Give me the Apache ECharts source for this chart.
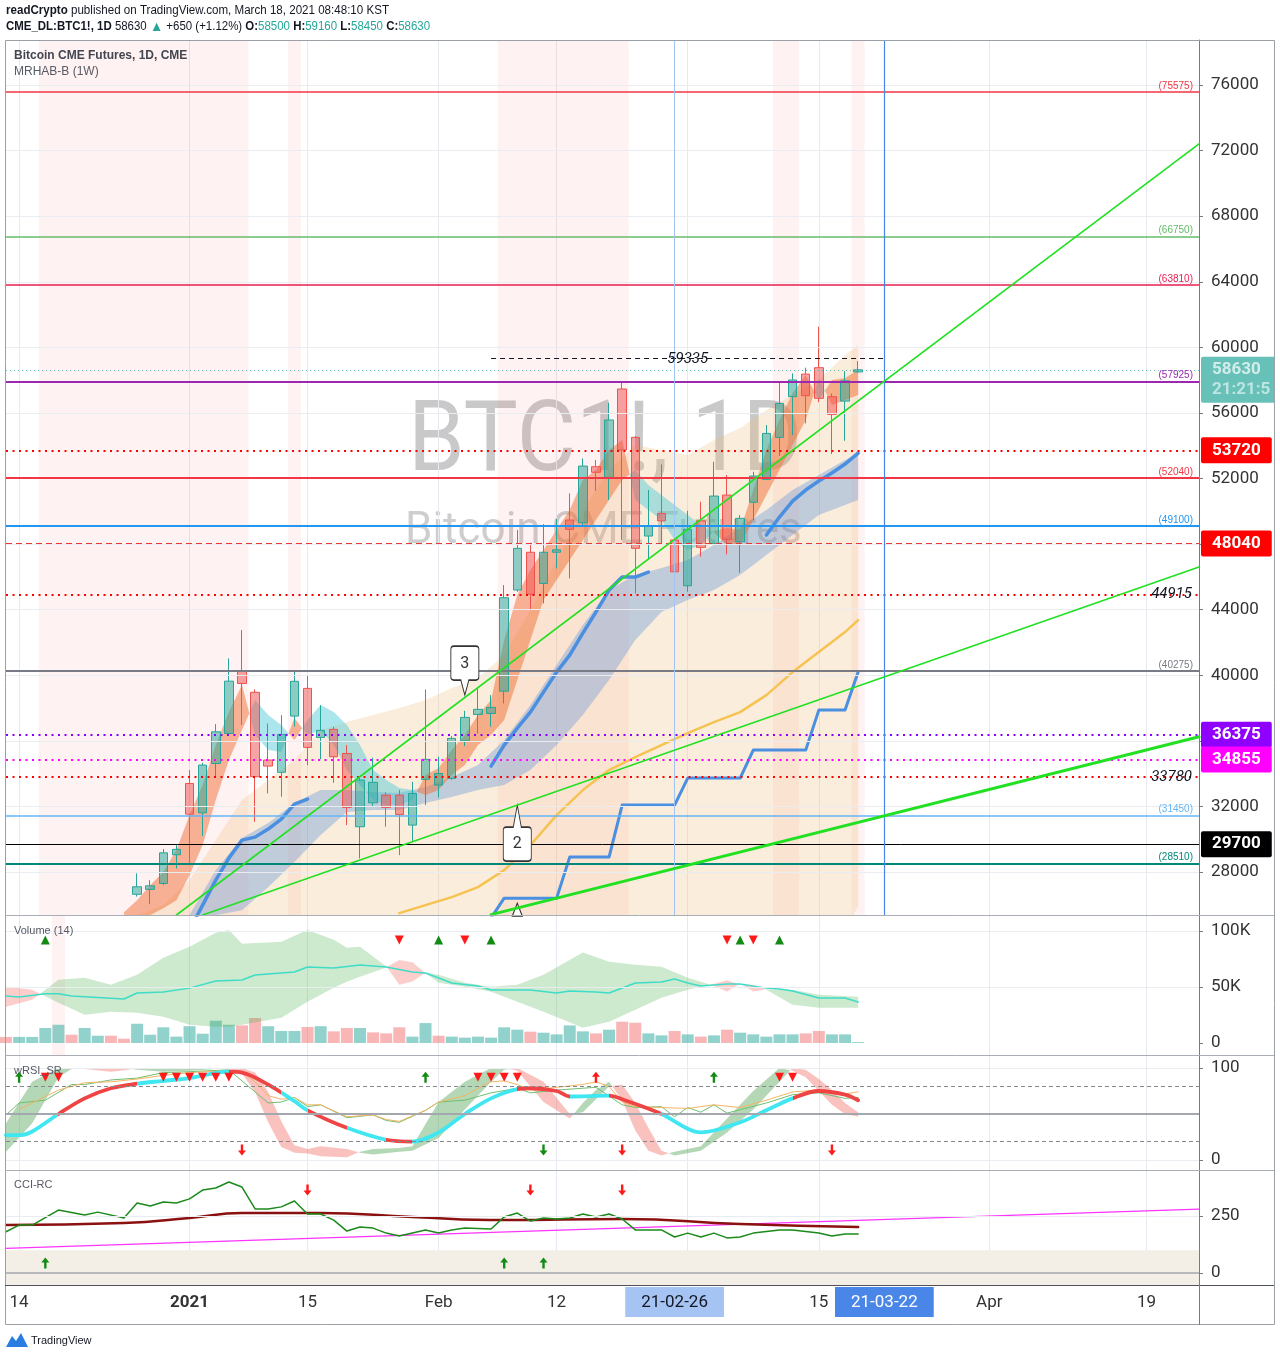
<!DOCTYPE html>
<html>
<head>
<meta charset="utf-8">
<title>Bitcoin CME Futures</title>
<script src="https://cdn.jsdelivr.net/npm/echarts@6.0.0/dist/echarts.min.js"></script>
<style>
html,body{margin:0;padding:0;background:#ffffff;}
#chart{width:1280px;height:1358px;}
</style>
</head>
<body>
<div id="chart"></div>
<script>
// ================= DATA =================
const categories = [
'2020-12-11','2020-12-14','2020-12-15','2020-12-16','2020-12-17','2020-12-18','2020-12-21','2020-12-22','2020-12-23','2020-12-24','2020-12-28','2020-12-29','2020-12-30','2020-12-31',
'2021-01-04','2021-01-05','2021-01-06','2021-01-07','2021-01-08','2021-01-11','2021-01-12','2021-01-13','2021-01-14','2021-01-15','2021-01-19','2021-01-20','2021-01-21','2021-01-22','2021-01-25','2021-01-26','2021-01-27','2021-01-28','2021-01-29',
'2021-02-01','2021-02-02','2021-02-03','2021-02-04','2021-02-05','2021-02-08','2021-02-09','2021-02-10','2021-02-11','2021-02-12','2021-02-16','2021-02-17','2021-02-18','2021-02-19','2021-02-22','2021-02-23','2021-02-24','2021-02-25','2021-02-26',
'2021-03-01','2021-03-02','2021-03-03','2021-03-04','2021-03-05','2021-03-08','2021-03-09','2021-03-10','2021-03-11','2021-03-12','2021-03-15','2021-03-16','2021-03-17','2021-03-18','2021-03-19','2021-03-22','2021-03-23','2021-03-24','2021-03-25','2021-03-26','2021-03-29','2021-03-30','2021-03-31',
'2021-04-01','2021-04-02','2021-04-05','2021-04-06','2021-04-07','2021-04-08','2021-04-09','2021-04-12','2021-04-13','2021-04-14','2021-04-15','2021-04-16','2021-04-19','2021-04-20','2021-04-21','2021-04-22','2021-04-23'
];
const xLabelMap = {'2020-12-14':'14','2021-01-04':'2021','2021-01-15':'15','2021-02-01':'Feb','2021-02-12':'12','2021-02-26':'21-02-26','2021-03-15':'15','2021-03-22':'21-03-22','2021-04-01':'Apr','2021-04-19':'19'};
const gridDates = ['2020-12-14','2021-01-04','2021-01-15','2021-02-01','2021-02-12','2021-03-01','2021-03-15','2021-04-01','2021-04-19'];

const priceTicks = [28000,32000,36000,40000,44000,48000,52000,56000,60000,64000,68000,72000,76000];
const volTicks = [0,50,100];
const wrsiTicks = [0,100];
const cciTicks = [0,250];

// candles [open, high, low, close], first one on 2020-12-28
const candleStart = '2020-12-28';
const candleOHLC = [
[26640,27920,26500,27100],[26940,27500,26040,27160],[27300,29400,27200,29170],[29050,29640,28220,29380],
[33400,34220,28420,31530],[31610,34660,30190,34520],[34620,37020,33770,36550],[36450,41030,36410,39640],[40270,42760,36960,39500],
[38960,39140,31060,33810],[34830,37060,32790,34460],[34080,37570,32590,36390],[37510,40270,36860,39630],[39200,40010,34520,35600],
[36210,38180,34870,36640],[36700,36860,33440,35030],[35230,35740,30860,31940],[30760,33810,28830,33610],
[32220,34970,32020,33470],[32690,32860,30760,31940],[32690,33000,29030,31510],[30860,33500,29900,32790],[33650,39140,32080,34870],
[33300,35030,32550,34010],[33710,36290,33610,36150],[36000,37830,35680,37430],[37610,39200,36450,37920],[37670,38790,36860,38040],
[39030,45500,38280,44730],[45200,48860,45090,47740],[47500,48080,43980,44950],[45600,49220,44380,47500],[47500,49530,46520,47650],
[49470,51090,45910,48900],[49300,53230,49160,52760],[52720,53130,51250,52380],[52070,56620,50690,55570],
[57460,57840,48250,53740],[54510,54600,44990,47740],[48490,51300,47030,49120],[49870,52860,48040,49420],[48250,48860,45930,46310],
[45460,50030,45090,48900],[49420,50580,47230,47800],[48040,53020,47950,50930],[50990,52210,47370,48290],[48140,49770,46250,49570],
[50550,52410,49470,52150],[51950,55260,51900,54750],[54510,57840,53370,56580],[56990,58410,54650,58010],[58370,58760,55360,57050],
[58760,61260,56660,56890],[56990,57190,53490,55910],[56720,58550,54300,57960],[58500,59160,58450,58630]
];

// volume (thousands) from 2020-12-11, and bar direction (u = up colour, d = down colour)
const volume = [5.4,5.4,5.4,13.4,16.3,7.4,13.4,6.5,6.5,3.8, 17.2,7.4,14,5.7,15,8.3,19.9,16.3,15.7,22.3,
 15,10.7,10.7,14.3,15,10.4,13.4,13.4,9.5,8.6, 14,5.7,17.8,6.5,5.7,4.8,5.7,4.8,14,11.9,
 10.1,9.2,7.7,15.7,10.4,8.6,11.9,19,18.1,8.6, 6.8,10.7,7.7,5.7,6.8,11.9,9.2,7.7,5.7,7.7, 7.7,8.6,10.7,7.7,7.7,0.8];
const volumeDir = 'duuuuduudd' + 'uuuuuuuudd' + 'uuududdudd' + 'duuduuuuuu' + 'duuuududdu' + 'udududuuuu' + 'udduuu';
const volCloud = [[0,32.4,50.3],[2,38.7,47.6],[4,56.5,36],[6,58.3,25.3],[8,52.1,28],[10,61,27],[12,76.2,23.5],[14,86,16.3],[16,98.5,14.5],[17,101,14.5],[18,88.7,16.3],[21,90.5,22.6],[23,101,36.9],[25,92.3,49.4],[26,85.1,54.7],[27,86,59.2],[29,68.5,67.5],[30,52,74],[31,55,72],[32,63,62.5],[33,61,53.9],[35,53.9,50.3],[37,50.3,45.8],[39,52.1,36.9],[41,61,28],[44,80.7,13.7],[46,72.6,19],[48,69.9,29.8],[50,68.1,40.5],[52,58.3,47.6],[54,51,53],[55,46,56],[56,53,52],[57,46,52],[58,48,47.5],[60,47.6,34.2],[62,43.1,31.5],[65,41.3,31.5]];
const volLine = [[0,42],[1,41],[3,43.9],[4,43.9],[5,42],[9,39.3],[10,44.6],[12,45.5],[14,49],[16,55.4],[18,56.3],[19,60.7],[22,63.4],[23,67.9],[25,67],[27,69.6],[29,67.9],[31,63.4],[32,62.5],[33,58],[34,53.6],[36,50.9],[37,47.3],[40,47.3],[42,44.6],[43,46.4],[45,45.5],[46,44.6],[48,53.6],[50,54.5],[51,57.2],[52,53.6],[53,50.9],[55,52.7],[56,52.7],[58,49],[59,48.2],[60,46.4],[62,40.2],[64,40.2],[65,36.6]];
const volUpMarks = [3,33,37,56,59];
const volDnMarks = [30,35,55,57];
const volMarkLevel = 92;

// main-pane overlays [index, value(s)]
const ribbonMain = [[9,25553,24760],[10,26285,25065],[11,27200,25370],[12,27993,25797],[13,29335,26285],[14,31470,27810],[15,33300,29640],[16,35740,32385],[17,37753,34825],[18,39400,36655],[19,36350,38485],[20,35435,37570],[21,35313,36960],[22,37387,36045],[23,36350,37265],[24,36655,38180],[25,35740,37753],[26,34215,36960],[27,33300,35740],[28,32385,34215],[29,32080,33605],[30,32080,33117],[31,32385,32995],[32,33910,32690],[33,34337,32995],[34,35435,33910],[35,36350,34520],[36,37570,35740],[37,38485,36350],[38,42145,37265],[39,44890,39705],[40,46415,42145],[41,47635,44585],[42,48855,45805],[43,50075,47025],[44,51905,48245],[45,52515,49465],[46,53735,50685],[47,54345,51905],[48,50685,52515],[49,50075,51600],[50,49465,50990],[51,48245,50380],[52,47635,49770],[53,47940,49160],[54,48800,48700],[55,48977,47940],[56,48855,47940],[57,51295,49465],[58,53735,50990],[59,55565,52515],[60,57212,54040],[61,58310,55565],[62,56785,58127],[63,58005,56480],[64,58127,56785],[65,58615,57090]];
const cloudMain = [[10,25370,20000],[12,25980,20000],[14,27505,20000],[16,29945,20000],[18,32385,20000],[20,33605,20000],[22,34825,20000],[24,36655,20000],[26,37143,20000],[28,37570,20000],[30,37997,20000],[32,38485,20000],[34,39217,20000],[36,39827,20000],[38,41230,20000],[40,43975,20000],[42,47025,20000],[44,50075,20000],[46,52515,20000],[48,54040,20000],[50,53735,20000],[52,53430,20000],[54,54345,20000],[56,55077,20000],[58,56175,20000],[60,57090,20000],[62,58005,22000],[64,59530,24500],[65,60140,25900]];
const blueBand = [[14,25370,24760],[16,28115,25370],[18,30067,25675],[20,30982,27078],[22,32202,28603],[24,32995,30250],[26,32995,31653],[28,32873,31775],[30,32812,31775],[32,33178,32202],[34,33788,32568],[36,34520,32995],[38,36045,33300],[40,38180,34215],[42,40620,35740],[44,43060,37570],[46,45195,39705],[48,46110,42145],[50,46537,43853],[52,47025,44585],[54,47940,45195],[56,49038,46110],[58,50075,47330],[60,51295,48550],[62,52210,49770],[64,53125,50380],[65,53552,50685]];
const blueSeg1 = [[14,24455],[15,25980],[16,27505],[17,28847],[18,29945],[19,30128],[20,30616],[21,31226],[22,32141],[23,32446]];
const blueSeg2 = [[37,34459],[38,35740],[39,36777],[40,37753],[41,38973],[42,40193],[43,41230],[44,42572],[45,43853],[46,45195],[47,45988],[48,45988],[49,46293]];
const blueSeg3 = [[58,48550],[59,49648],[60,50624],[61,51295],[62,51844],[63,52332],[64,52881],[65,53552]];
const yellowLine = [[30,25492],[32,25980],[34,26468],[36,27078],[38,28115],[40,29640],[42,31470],[44,32995],[46,34215],[48,35008],[50,35740],[52,36472],[54,37143],[56,37753],[58,38790],[60,40193],[62,41413],[64,42633],[65,43365]];
const stepLine = [[37,25200],[38,26407],[39,26407],[40,26407],[41,26407],[42,26407],[43,28908],[44,28908],[45,28908],[46,28908],[47,32080],[48,32080],[49,32080],[50,32080],[51,32080],[52,33727],[53,33727],[54,33727],[55,33727],[56,33727],[57,35435],[58,35435],[59,35435],[60,35435],[61,35435],[62,37875],[63,37875],[64,37875],[65,40193]];
const trend1 = [[13,25378],[91,72407]];
const trend2 = [[15,25378],[91,46598]];
const trend3 = [[37,25400],[91,36250]];
const shadeMain = [['2020-12-16','2021-01-08'],['2021-01-14','2021-01-14'],['2021-02-08','2021-02-22'],['2021-03-10','2021-03-11'],['2021-03-18','2021-03-18']];
const shadeVol = [['2020-12-17','2020-12-17']];

// price levels
const levelSolid = [75575,66750,63810,57925,52040,49100,40275,31450,28510];
const levelBoxed = [53720,48040,36375,34855,29700];
const levelNoted = [44915,33780];
const lastPrice = 58630;
const peakLevel = 59335;
const callout3 = [35,38790];
const callout2 = [39,32080];
const callout2b = [39,26100];

// wRSI_SR
const wrsiLine = [[0,27],[1,27],[2,31],[4,50],[6,67],[8,78],[10,83],[12,86],[14,89],[17,96],[18,95],[20,82],[22,64],[23,54],[26,35],[29,22],[31,20],[33,30],[35,50],[37,67],[39,77],[40,78],[42,75],[43,69],[46,70],[47,66],[50,50],[52,34],[53,30],[56,41],[58,54],[60,67],[62,75],[64,71],[65,65]];
const wrsiColorBreaks = [3.8,10.1,16.9,21.1,23.3,25.8,28.8,31.1,39,42.9,45.9,50,60.1];
const wrsiGreen = [[0,49],[1,62],[3,65],[5,82],[6,82],[8,87],[10,89],[12,95],[14,96],[17,98],[19,74],[20,62],[21,63],[22,68],[23,58],[24,60],[26,46],[28,49],[29,43],[30,41],[32,54],[33,63],[35,65],[37,73],[39,78],[40,73],[42,76],[44,78],[45,79],[47,60],[48,57],[50,58],[51,47],[52,57],[53,52],[54,60],[55,51],[58,62],[60,71],[62,73],[64,67],[65,68]];
const wrsiOrange = [[1,55],[2,62],[4,76],[6,84],[8,85],[10,88],[12,92],[14,95],[17,97],[18,96],[19,85],[20,70],[21,66],[22,68],[23,60],[24,60],[26,47],[28,49],[29,44],[30,42],[32,54],[33,63],[35,70],[36,78],[37,85],[38,86],[39,82],[40,76],[42,79],[44,82],[45,85],[46,80],[47,63],[48,58],[50,57],[52,56],[54,60],[56,57],[58,65],[60,74],[62,76],[64,72],[65,74]];
const wrsiRibbon = [[0,40,9],[2,85,40],[4,100,90],[5,100,99],[6,99,100],[8,96,100],[10,99,98],[12,100,96],[14,99,97],[16,100,99],[17,99,100],[18,94,100],[19,74,95],[20,41,74],[21,14,42],[22,8,16],[23,7,12],[24,4,15],[26,3,12],[27,9,8],[28,12,6],[30,13,9],[31,15,10],[33,63,24],[35,85,55],[37,100,85],[38,100,98],[39,97,100],[41,63,85],[43,45,50],[44,62,52],[45,76,66],[46,85,80],[47,65,82],[48,32,62],[49,10,35],[50,5,10],[51,9,5],[53,15,10],[55,45,30],[57,75,55],[59,100,85],[60,97,100],[61,90,98],[62,75,88],[63,60,76],[64,50,62],[65,47,52]];
const wrsiTriDown = [3,4,12,13,14,15,16,17,36,37,38,39,59,60];
const wrsiUpGreen = [1,32,54];
const wrsiUpRed = [45];
const wrsiDnRed = [18,47,63];
const wrsiDnGreen = [41];
const wrsiTopLevel = 90, wrsiBottomLevel = 11;

// CCI-RC
const cciGreen = [[0,181],[1,210],[2,210],[4,276],[6,254],[7,267],[9,241],[10,307],[11,294],[12,311],[13,307],[14,325],[15,364],[16,373],[17,399],[18,377],[19,281],[20,281],[21,290],[22,316],[23,259],[24,259],[25,232],[26,184],[27,202],[28,197],[29,175],[30,162],[31,175],[32,189],[33,175],[34,189],[35,197],[37,193],[38,246],[39,263],[40,228],[41,241],[42,237],[43,241],[44,259],[45,246],[46,259],[47,237],[48,189],[49,189],[50,189],[51,158],[52,175],[53,158],[54,175],[55,154],[56,158],[57,175],[59,189],[60,189],[62,175],[63,162],[64,171],[65,171]];
const cciRed = [[0,210],[9,219],[14,241],[18,263],[24,263],[31,246],[38,232],[47,237],[56,215],[65,202]];
const cciMagenta = [[0,108],[91,280]];
const cciUp = [3,38,41];
const cciDn = [23,40,47];
const cciTopLevel = 364, cciBottomLevel = 44;

// ================= STYLE =================
const AF = 'Roboto, "Liberation Sans", Arial, sans-serif';
const HF = '"Liberation Sans", Arial, sans-serif';
const UPC = '#26a69a', DNC = '#ef5350';
const solidStyle = [{c:'#f23645',w:1.5},{c:'#66bb6a',w:1.5},{c:'#e91e4f',w:1.5},{c:'#9c27b0',w:2},{c:'#f23645',w:2},{c:'#2196f3',w:2},{c:'#787b86',w:2},{c:'#64b5f6',w:1.5},{c:'#00897b',w:2}];
const boxedStyle = [{bg:'#ff0000',c:'#ff0000',w:2,t:[2,4.5]},{bg:'#ff0000',c:'#e53935',w:1,t:[6,4]},{bg:'#9000ff',c:'#8800ff',w:2,t:[2,4.5]},{bg:'#ff00ff',c:'#ff00ff',w:2,t:[2,4.5]},{bg:'#000000',c:'#000000',w:1,t:'solid'}];
const UP_ARROW = 'path://M5,0 L10,5 L6.5,5 L6.5,11 L3.5,11 L3.5,5 L0,5 Z';
const DN_ARROW = 'path://M3.5,0 L6.5,0 L6.5,6 L10,6 L5,11 L0,6 L3.5,6 Z';
const CALLOUT_DOWN = 'path://M3,0 H25 Q28,0 28,3 V31 Q28,34 25,34 H18 L14,49 L10,34 H3 Q0,34 0,31 V3 Q0,0 3,0 Z';
const CALLOUT_UP = 'path://M10,22 L14,0 L18,22 H25 Q28,22 28,25 V53 Q28,56 25,56 H3 Q0,56 0,53 V25 Q0,22 3,22 Z';

const ci = d => categories.indexOf(d);

function clipOf(cs){ return {type:'rect', shape:{x:cs.x, y:cs.y, width:cs.width, height:cs.height}}; }
function shadeSeries(gi, ranges, col){
  return {type:'custom', xAxisIndex:gi, yAxisIndex:gi, z:1, silent:true, data:[[0,0]], encode:{x:0,y:1},
    renderItem:function(params, api){
      const cs = params.coordSys; const bw = api.size([1,0])[0];
      return {type:'group', clipPath: clipOf(cs), children: ranges.map(r=>{
        const x0 = api.coord([ci(r[0]),0])[0]-bw/2, x1 = api.coord([ci(r[1]),0])[0]+bw/2;
        return {type:'rect', shape:{x:x0, y:cs.y, width:x1-x0, height:cs.height}, style:{fill:col}};
      })};
    }};
}
function bandSeries(gi, arr, upCol, dnCol, z){
  return {type:'custom', xAxisIndex:gi, yAxisIndex:gi, z:z, silent:true, data:[[arr[0][0], arr[0][1]]], encode:{x:0,y:1},
    renderItem:function(params, api){
      const cs = params.coordSys; const ch = [];
      let runA = [], runB = [], sign = null;
      const flush = ()=>{ if(runA.length>1){ ch.push({type:'polygon', shape:{points: runA.concat(runB.slice().reverse())}, style:{fill: sign>=0?upCol:dnCol}}); } };
      for(let i=0;i<arr.length;i++){
        const x=arr[i][0], a=arr[i][1], b=arr[i][2];
        const A = api.coord([x,a]), B = api.coord([x,b]); const s = (a-b)>=0?1:-1;
        if(sign===null){ sign=s; runA=[A]; runB=[B]; continue; }
        if(s!==sign){
          const px=arr[i-1][0], pa=arr[i-1][1], pb=arr[i-1][2];
          const d0=pa-pb, d1=a-b; const t=d0/(d0-d1);
          const PA=api.coord([px,pa]);
          const M=[PA[0]+t*(A[0]-PA[0]), PA[1]+t*(A[1]-PA[1])];
          runA.push(M); runB.push(M); flush(); sign=s; runA=[M,A]; runB=[M,B];
        } else { runA.push(A); runB.push(B); }
      }
      flush();
      return {type:'group', clipPath: clipOf(cs), children: ch};
    }};
}
function lineS(gi, data, color, width, z, extra){
  const ls = {width:width, cap:'round', join:'round'};
  if(color) ls.color = color;
  return Object.assign({type:'line', xAxisIndex:gi, yAxisIndex:gi, data:data, showSymbol:false, symbol:'none', silent:true, z:z,
    lineStyle:ls}, extra||{});
}
function marks(gi, idxs, level, symbol, color, size, z, rot){
  return {type:'scatter', xAxisIndex:gi, yAxisIndex:gi, silent:true, z:z, symbol:symbol, symbolSize:size, symbolRotate:rot||0,
    itemStyle:{color:color, opacity:1}, data: idxs.map(i=>[i, level])};
}

const S = [];
const add = s => { S.push(s); return S.length-1; };

// ----- main pane -----
add({type:'line', xAxisIndex:0, yAxisIndex:0, data:[], z:0, silent:true,
  markLine:{silent:true, symbol:['none','none'], label:{show:false}, lineStyle:{color:'#e9edf2', width:1, type:'solid'}, data: priceTicks.map(v=>({yAxis:v}))}});
add(shadeSeries(0, shadeMain, 'rgba(255,82,82,0.075)'));
add(bandSeries(0, cloudMain, 'rgba(240,185,120,0.26)', 'rgba(240,185,120,0.26)', 1));
add(bandSeries(0, blueBand, 'rgba(60,130,220,0.30)', 'rgba(60,130,220,0.30)', 1));
add(bandSeries(0, ribbonMain, 'rgba(240,115,60,0.52)', 'rgba(70,200,215,0.45)', 2));
add(lineS(0, yellowLine, '#f6c353', 2.5, 3));
add(lineS(0, stepLine, '#4a8fe0', 3, 3));
add(lineS(0, blueSeg1, '#4a8fe0', 3.5, 3));
add(lineS(0, blueSeg2, '#4a8fe0', 3.5, 3));
add(lineS(0, blueSeg3, '#4a8fe0', 3.5, 3));
add({type:'candlestick', xAxisIndex:0, yAxisIndex:0, z:4, silent:true, barWidth:9,
  encode:{x:0, y:[1,2,3,4]},
  data: candleOHLC.map((c,k)=>[ci(candleStart)+k, c[0], c[3], c[2], c[1]]),
  itemStyle:{color:'rgba(38,166,154,0.52)', color0:'rgba(239,83,80,0.52)', borderColor:UPC, borderColor0:DNC, borderWidth:1}});
add(lineS(0, trend1, '#22e022', 1.6, 5));
add(lineS(0, trend2, '#22e022', 1.6, 5));
add(lineS(0, trend3, '#22e022', 3, 5));

const levelMarks = [];
levelSolid.forEach((v,i)=>{ const st=solidStyle[i];
  levelMarks.push({yAxis:v, lineStyle:{color:st.c, width:st.w, type:'solid'},
    label:{show:true, position:'insideEndTop', formatter:'('+v+')', color:st.c, fontSize:10, distance:[6,1], fontFamily:HF}}); });
levelBoxed.forEach((v,i)=>{ const st=boxedStyle[i];
  levelMarks.push({yAxis:v, lineStyle:{color:st.c, width:st.w, type:st.t},
    label:{show:true, position:'end', distance:2, formatter:String(v), backgroundColor:st.bg, color:'#ffffff', fontSize:17, fontWeight:'bold', padding:[5,11,4,11], borderRadius:2, fontFamily:AF}}); });
levelNoted.forEach(v=>{
  levelMarks.push({yAxis:v, lineStyle:{color:'#ff0000', width:2, type:[2,4.5]},
    label:{show:true, position:'insideEnd', formatter:String(v), color:'#131722', fontSize:15, fontStyle:'italic', distance:7, fontFamily:AF}}); });
levelMarks.push({yAxis:lastPrice, lineStyle:{color:'#26a69a', width:1, type:[1,3], opacity:0.7},
  label:{show:true, position:'end', distance:2, formatter:'{p|'+lastPrice+'}\n{t|21:21:5}', backgroundColor:'#26a69a', padding:[3,6,3,11], offset:[0,10], borderRadius:2,
    rich:{p:{color:'#ffffff', fontSize:17, fontWeight:'bold', lineHeight:20, fontFamily:AF}, t:{color:'#e3f4f2', fontSize:17, fontWeight:'bold', lineHeight:20, fontFamily:AF}}}});
levelMarks.push([{coord:[37, peakLevel], lineStyle:{color:'#131722', width:1, type:[5,4]},
  label:{show:true, position:'middle', distance:5, offset:[0,14], formatter:String(peakLevel), color:'#131722', fontSize:15, fontStyle:'italic', fontFamily:AF}}, {coord:[67, peakLevel]}]);
levelMarks.push({xAxis:'2021-02-26', lineStyle:{color:'#a3c4f3', width:1, type:'solid'}, label:{show:false}});
levelMarks.push({xAxis:'2021-03-22', lineStyle:{color:'#4a86e8', width:1.2, type:'solid'}, label:{show:false}});

add({type:'line', xAxisIndex:0, yAxisIndex:0, data:[], z:6, silent:true,
  markLine:{silent:true, symbol:['none','none'], precision:0, data: levelMarks},
  markPoint:{silent:true, data:[
    {coord:callout3, symbol:CALLOUT_DOWN, symbolSize:[28,49], symbolOffset:[0,'-50%'], itemStyle:{color:'#ffffff', borderColor:'#333333', borderWidth:1.2},
      label:{show:true, formatter:'3', color:'#333333', fontSize:16, offset:[0,-7], fontFamily:AF}},
    {coord:callout2, symbol:CALLOUT_UP, symbolSize:[28,56], symbolOffset:[0,'50%'], itemStyle:{color:'#ffffff', borderColor:'#333333', borderWidth:1.2},
      label:{show:true, formatter:'2', color:'#333333', fontSize:16, offset:[0,11], fontFamily:AF}},
    {coord:callout2b, symbol:'path://M0,12 L5,0 L10,12 Z', symbolSize:[10,13], symbolOffset:[0,'50%'], itemStyle:{color:'#ffffff', borderColor:'#333333', borderWidth:1.2},
      label:{show:false}}
  ]}});

// ----- volume pane -----
add({type:'line', xAxisIndex:1, yAxisIndex:1, data:[], z:0, silent:true,
  markLine:{silent:true, symbol:['none','none'], label:{show:false}, lineStyle:{color:'#e9edf2', width:1, type:'solid'}, data:[{yAxis:50},{yAxis:100}]}});
add(shadeSeries(1, shadeVol, 'rgba(255,82,82,0.075)'));
add({type:'bar', xAxisIndex:1, yAxisIndex:1, z:2, silent:true, barWidth:12,
  data: volume.map((v,i)=>({value:[i,v], itemStyle:{color: volumeDir[i]==='u' ? 'rgba(38,166,154,0.5)' : 'rgba(239,83,80,0.42)'}}))});
add(bandSeries(1, volCloud, 'rgba(76,175,80,0.28)', 'rgba(244,67,54,0.26)', 3));
add(lineS(1, volLine, '#3fdcc8', 1.5, 4));
add(marks(1, volUpMarks, volMarkLevel, 'triangle', '#138a13', [9,9], 5));
add(marks(1, volDnMarks, volMarkLevel, 'triangle', '#ff1a1a', [9,9], 5, 180));

// ----- wRSI pane -----
add({type:'line', xAxisIndex:2, yAxisIndex:2, data:[], z:0, silent:true,
  markLine:{silent:true, symbol:['none','none'], label:{show:false}, data:[
    {yAxis:100, lineStyle:{color:'#e9edf2', width:1, type:'solid'}},
    {yAxis:0, lineStyle:{color:'#e9edf2', width:1, type:'solid'}},
    {yAxis:80, lineStyle:{color:'#85888f', width:1, type:[4,3]}},
    {yAxis:20, lineStyle:{color:'#85888f', width:1, type:[4,3]}},
    {yAxis:50, lineStyle:{color:'#a4a7ae', width:2, type:'solid'}}]}});
add(bandSeries(2, wrsiRibbon, 'rgba(76,160,80,0.42)', 'rgba(240,80,70,0.35)', 1));
add(lineS(2, wrsiGreen, '#6fbf6f', 1, 2));
add(lineS(2, wrsiOrange, '#f5b562', 1, 2));
const wrsiIdx = add(lineS(2, wrsiLine, null, 3.8, 3, {smooth:0.35}));
add(marks(2, wrsiTriDown, wrsiTopLevel, 'triangle', '#ff1a1a', [9,9], 5, 180));
add(marks(2, wrsiUpGreen, wrsiTopLevel, UP_ARROW, '#138a13', [8,11], 5));
add(marks(2, wrsiUpRed, wrsiTopLevel, UP_ARROW, '#ff1a1a', [8,11], 5));
add(marks(2, wrsiDnRed, wrsiBottomLevel, DN_ARROW, '#ff1a1a', [8,11], 5));
add(marks(2, wrsiDnGreen, wrsiBottomLevel, DN_ARROW, '#138a13', [8,11], 5));

// ----- CCI pane -----
add({type:'line', xAxisIndex:3, yAxisIndex:3, data:[], z:0, silent:true,
  markArea:{silent:true, itemStyle:{color:'#f3efe6'}, data:[[{yAxis:-100},{yAxis:100}]]},
  markLine:{silent:true, symbol:['none','none'], label:{show:false}, data:[
    {yAxis:250, lineStyle:{color:'#e9edf2', width:1, type:'solid'}},
    {yAxis:0, lineStyle:{color:'#a4a7ae', width:1.5, type:'solid'}}]}});
add(lineS(3, cciMagenta, '#ff33ff', 1.2, 2));
add(lineS(3, cciRed, '#8b1010', 2.5, 3, {smooth:0.5}));
add(lineS(3, cciGreen, '#1b8a1b', 1.5, 4));
add(marks(3, cciUp, cciBottomLevel, UP_ARROW, '#138a13', [8,11], 5));
add(marks(3, cciDn, cciTopLevel, DN_ARROW, '#ff1a1a', [8,11], 5));

// ----- visual map for wRSI colour segments -----
const CY = '#40e6f0', RD = '#ef4444';
const pieces = [];
let prev = -1;
wrsiColorBreaks.concat([200]).forEach((b,k)=>{ pieces.push({gte:prev, lt:b, color: k%2===0 ? CY : RD}); prev = b; });

// ----- axes -----
const grids = [
  {left:6, right:81, top:40, height:875},
  {left:6, right:81, top:915, height:140},
  {left:6, right:81, top:1055, height:115},
  {left:6, right:81, top:1170, height:115}
].map(g=>Object.assign({outerBoundsMode:'none', containLabel:false}, g));

const isLabel = (i,v)=> xLabelMap[v] !== undefined;
const isGrid = (i,v)=> gridDates.indexOf(v) >= 0;
const xAxes = grids.map((g,i)=>({
  type:'category', gridIndex:i, data:categories, boundaryGap:false,
  axisLine:{show:false},
  axisTick:{show:i===3, interval:isLabel, length:4, lineStyle:{color:'#50535e'}},
  axisLabel:{show:i===3, interval:isLabel, margin:2, hideOverlap:false,
    formatter:function(v){ const t=xLabelMap[v]; if(!t) return '';
      if(v==='2021-02-26') return '{b1|'+t+'}';
      if(v==='2021-03-22') return '{b2|'+t+'}';
      if(t==='2021') return '{y|'+t+'}';
      return '{n|'+t+'}'; },
    rich:{
      n:{fontSize:17, color:'#333333', padding:[7,0,6,0], fontFamily:AF},
      y:{fontSize:17, color:'#333333', fontWeight:'bold', padding:[7,0,6,0], fontFamily:AF},
      b1:{fontSize:17, color:'#131722', backgroundColor:'#a6c4f3', padding:[7,16,6,16], fontFamily:AF},
      b2:{fontSize:17, color:'#ffffff', backgroundColor:'#4a86e8', padding:[7,16,6,16], fontFamily:AF}
    }},
  splitLine:{show:true, interval:isGrid, lineStyle:{color:'#e6eaf0', width:1}}
}));

function yAx(gi, min, max, ticks, fmt){
  return {type:'value', gridIndex:gi, position:'right', min:min, max:max,
    axisLine:{show:true, lineStyle:{color:'#787b86', width:1}},
    axisTick:{show:true, length:4, customValues:ticks, lineStyle:{color:'#787b86'}},
    axisLabel:{show:true, customValues:ticks, formatter:fmt, fontSize:17, color:'#333333', margin:12, fontFamily:AF, hideOverlap:false, padding:[3,0,0,0]},
    splitLine:{show:false}};
}
const yAxes = [
  yAx(0, 25378, 78745, priceTicks, v=>String(v)),
  yAx(1, -10.71, 114.29, volTicks, v=> v===0 ? '0' : v+'K'),
  yAx(2, -10.87, 114.13, wrsiTicks, v=>String(v)),
  yAx(3, -52.6, 451.75, cciTicks, v=>String(v))
];

// ----- decoration / texts -----
const G = [];
G.push({type:'text', x:408, y:445, scaleX:0.93, z:0, silent:true,
  style:{text:'BTC1!, 1D', font:'98px '+AF, fill:'rgba(120,120,120,0.40)', align:'left', verticalAlign:'middle'}});
G.push({type:'text', x:405, y:532, z:0, silent:true,
  style:{text:'Bitcoin CME Futures', font:'44px '+AF, fill:'rgba(120,120,120,0.36)', align:'left', verticalAlign:'middle'}});
G.push({type:'text', x:6, y:11, scaleX:0.965, z:100, silent:true,
  style:{text:'{b|readCrypto} published on TradingView.com, March 18, 2021 08:48:10 KST', font:'12px '+HF, fill:'#131722', verticalAlign:'middle',
    rich:{b:{fontWeight:'bold', fontSize:12, fontFamily:HF, fill:'#131722'}}}});
G.push({type:'text', x:6, y:27, scaleX:0.955, z:100, silent:true,
  style:{text:'{b|CME_DL:BTC1!, 1D} 58630 {t|▲} +650 (+1.12%) {b|O:}{g|58500} {b|H:}{g|59160} {b|L:}{g|58450} {b|C:}{g|58630}', font:'12px '+HF, fill:'#131722', verticalAlign:'middle',
    rich:{b:{fontWeight:'bold', fontSize:12, fontFamily:HF, fill:'#131722'}, g:{fontSize:12, fontFamily:HF, fill:'#26a69a'}, t:{fontSize:14, fontFamily:HF, fill:'#26a69a'}}}});
G.push({type:'text', x:14, y:56, z:100, silent:true, style:{text:'Bitcoin CME Futures, 1D, CME', font:'bold 12px '+HF, fill:'#434651', verticalAlign:'middle'}});
G.push({type:'text', x:14, y:72, z:100, silent:true, style:{text:'MRHAB-B (1W)', font:'12px '+HF, fill:'#555a66', verticalAlign:'middle'}});
G.push({type:'text', x:14, y:931, z:100, silent:true, style:{text:'Volume (14)', font:'11px '+HF, fill:'#555a66', verticalAlign:'middle'}});
G.push({type:'text', x:14, y:1071, z:100, silent:true, style:{text:'wRSI_SR', font:'11px '+HF, fill:'#555a66', verticalAlign:'middle'}});
G.push({type:'text', x:14, y:1185, z:100, silent:true, style:{text:'CCI-RC', font:'11px '+HF, fill:'#555a66', verticalAlign:'middle'}});
G.push({type:'rect', z:100, silent:true, shape:{x:5.5, y:40.5, width:1269, height:1284}, style:{fill:'transparent', stroke:'#9aa0a6', lineWidth:1}});
[915.5, 1055.5, 1170.5].forEach(y=> G.push({type:'line', z:100, silent:true, shape:{x1:5, y1:y, x2:1274, y2:y}, style:{stroke:'#a9adb5', lineWidth:1}}));
G.push({type:'line', z:100, silent:true, shape:{x1:5, y1:1285.5, x2:1274, y2:1285.5}, style:{stroke:'#50535e', lineWidth:1.2}});
G.push({type:'line', z:100, silent:true, shape:{x1:1199.5, y1:1285, x2:1199.5, y2:1325}, style:{stroke:'#787b86', lineWidth:1}});
G.push({type:'rect', z:99, silent:true, shape:{x:1275, y:340, width:5, height:70}, style:{fill:'#ffffff'}});
G.push({type:'polygon', z:100, silent:true, shape:{points:[[6,1347],[12,1336],[16,1341],[21,1333],[28,1347]]}, style:{fill:'#2a7de1'}});
G.push({type:'text', x:31, y:1341, z:100, silent:true, style:{text:'TradingView', font:'11px '+HF, fill:'#131722', verticalAlign:'middle'}});

const option = {
  animation:false,
  backgroundColor:'#ffffff',
  textStyle:{fontFamily:AF},
  grid:grids,
  xAxis:xAxes,
  yAxis:yAxes,
  visualMap:[{type:'piecewise', show:false, dimension:0, seriesIndex:wrsiIdx, pieces:pieces, outOfRange:{color:CY}}],
  series:S,
  graphic:{elements:G}
};
const chart = echarts.init(document.getElementById('chart'), null, {renderer:'canvas'});
chart.setOption(option);
</script>
</body>
</html>
